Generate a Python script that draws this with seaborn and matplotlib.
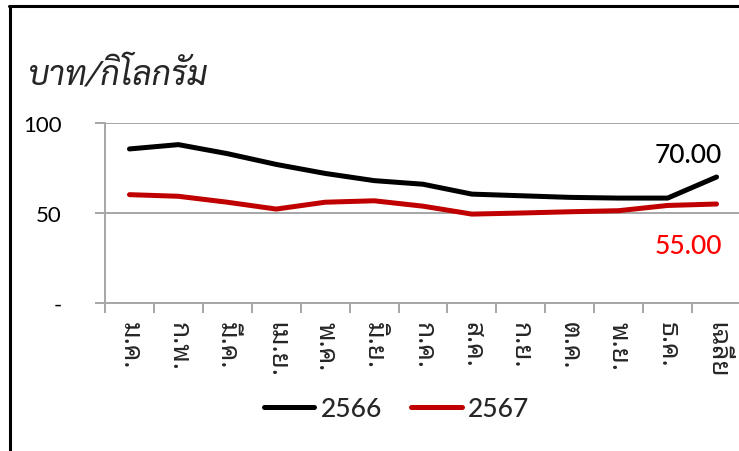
import matplotlib
matplotlib.use("Agg")
import matplotlib.pyplot as plt
from matplotlib.lines import Line2D
from matplotlib.ticker import FixedLocator, FixedFormatter
import numpy as np
import pandas as pd
import seaborn as sns

# data (baht per kg)
months = ["ม.ค.", "ก.พ.", "มี.ค.", "เม.ย.", "พ.ค.", "มิ.ย.", "ก.ค.",
          "ส.ค.", "ก.ย.", "ต.ค.", "พ.ย.", "ธ.ค.", "เฉลี่ย"]
price_2566 = [85.6, 88.0, 83.0, 77.0, 72.0, 68.0, 66.0, 60.5, 59.6, 58.7, 58.3, 58.3, 70.0]
price_2567 = [60.2, 59.3, 56.0, 52.2, 56.0, 56.8, 53.8, 49.4, 50.0, 50.7, 51.3, 54.2, 55.0]
years = ["2566", "2567"]
colors = ["#000000", "#C00000"]
label_colors = ["#000000", "#FF0000"]
yticks = [0, 50, 100]
ytick_labels = ["-", "50", "100"]

sns.set_style("white")
plt.rcParams["font.family"] = ["Lato", "Noto Sans Thai Looped", "DejaVu Sans"]

df = pd.DataFrame({
    "month": months * 2,
    "price": price_2566 + price_2567,
    "year": [years[0]] * len(months) + [years[1]] * len(months),
})

fig = plt.figure(figsize=(7.39, 4.52), dpi=100)
ax = fig.add_axes([0.1421, 0.3274, 0.8606, 0.3982])

sns.lineplot(data=df, x="month", y="price", hue="year", palette=colors,
             sort=False, linewidth=3.6, ax=ax, legend=False)
for line in ax.lines:
    line.set_solid_capstyle("round")
    line.set_solid_joinstyle("round")

grey = "#A6A6A6"
ax.set_xlim(-0.5, len(months) - 0.5)
ax.set_ylim(0, 100)
ax.set_xlabel("")
ax.set_ylabel("")
for s in ["top", "right"]:
    ax.spines[s].set_visible(False)
for s in ["left", "bottom"]:
    ax.spines[s].set_color(grey)
    ax.spines[s].set_linewidth(1.4)
ax.yaxis.grid(True, color=grey, linewidth=1.4)
ax.set_axisbelow(True)

ax.yaxis.set_major_locator(FixedLocator(yticks))
ax.yaxis.set_major_formatter(FixedFormatter(ytick_labels))
ax.tick_params(axis="y", length=7, width=1.4, color=grey, pad=24,
               labelsize=16, labelcolor="#000000", left=True)

x = np.arange(len(months))
ax.set_xticks(x)
ax.set_xticklabels(months, rotation=-90, ha="center", va="top",
                   family=["Noto Sans Thai Looped", "DejaVu Sans"])
ax.set_xticks(np.arange(len(months) + 1) - 0.5, minor=True)
ax.tick_params(axis="x", which="major", length=0, pad=13, labelsize=19)
ax.tick_params(axis="x", which="minor", length=7, width=1.4, color=grey, bottom=True)

# average labels at the last point
offsets = [(4, 16), (4, -30)]
for vals, col, off in zip([price_2566, price_2567], label_colors, offsets):
    ax.annotate(f"{vals[-1]:.2f}", xy=(x[-1], vals[-1]), xytext=off,
                textcoords="offset points", ha="right", va="center",
                fontsize=19, fontweight="medium", color=col, annotation_clip=False)

fig.text(28 / 739, 1 - 75 / 452, "บาท/กิโลกรัม", fontsize=24, style="italic",
         family=["Sarabun", "Noto Sans Thai Looped", "DejaVu Sans"],
         ha="left", va="center")

handles = [Line2D([], [], color=c, linewidth=3.6, solid_capstyle="round") for c in colors]
fig.legend(handles, years, loc="center", bbox_to_anchor=(0.537, 0.093), ncol=2,
           frameon=False, handlelength=1.9, handletextpad=0.25,
           columnspacing=1.1, prop={"size": 19, "weight": "medium"})

# outer frame (left and top edges only)
fig.add_artist(Line2D([9.5 / 739, 9.5 / 739], [0, 1 - 7 / 452], color="black",
                      linewidth=2.2, transform=fig.transFigure))
fig.add_artist(Line2D([8.5 / 739, 1], [1 - 7 / 452, 1 - 7 / 452], color="black",
                      linewidth=2.2, transform=fig.transFigure))

fig.savefig("out.png", dpi=100)
